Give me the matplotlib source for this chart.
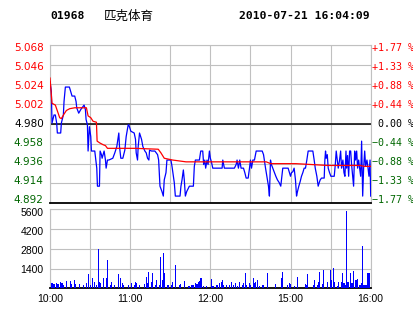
import matplotlib
matplotlib.use('Agg')
import matplotlib.pyplot as plt
from matplotlib.transforms import offset_copy

# header text
code = '01968'
name = '匹克体育'
stamp = '2010-07-21 16:04:09'
prev_close = 4.980

price_ticks = [4.892, 4.914, 4.936, 4.958, 4.980, 5.002, 5.024, 5.046, 5.068]
pct_labels = ['−1.77 %', '−1.33 %', '−0.88 %', '−0.44 %', ' 0.00 %',
              '+0.44 %', '+0.88 %', '+1.33 %', '+1.77 %']
vol_ticks = [1400, 2800, 4200, 5600]
time_ticks = [0, 60, 120, 180, 240]   # minutes of trading since 10:00
time_labels = ['10:00', '11:00', '12:00', '15:00', '16:00']

# minute price (blue)
price_t = [0, 1, 1.5, 3, 4, 5, 5.5, 8, 8.5, 10, 10.5, 11.5, 14.5, 15.5, 16.5, 18.5,
           19.5, 20, 21.5, 23, 24, 25.5, 26.5, 27, 28, 28.5, 29.5, 30.5, 31, 33.5,
           35, 35.5, 37, 37.5, 38.5, 39, 40.5, 41.5, 42, 43, 44, 47, 48.5, 50,
           51.5, 52, 53, 54.5, 56, 57, 58.5, 59, 60.5, 63, 64, 64.5, 65.5, 66, 67,
           68.5, 69.5, 71, 72, 73, 74, 74.5, 76, 78.5, 80.5, 81.3, 82.3, 83.8,
           84.8, 85.5, 86.8, 87.5, 90.5, 91.3, 92.3, 93, 93.8, 97.3, 98, 98.8,
           99.8, 100.5, 101.3, 102.3, 103.3, 104.3, 107.3, 108, 108.8, 111.8,
           112.8, 114.3, 115, 115.8, 116.5, 117.5, 118.3, 119.3, 120, 120.8,
           121.8, 128.8, 129.3, 130.5, 138, 139.3, 140, 141, 142, 143, 144.8,
           145.8, 146.8, 148.3, 149.3, 150, 150.8, 151.8, 153, 154.3, 158.8,
           159.8, 161.3, 162.7, 163.5, 164.2, 165, 165.7, 166.7, 167.7, 169,
           170.2, 171.5, 172.7, 173.5, 174.2, 178.2, 179.2, 180, 180.7, 181.7,
           182.7, 183.7, 184.5, 185.2, 186.2, 187.2, 188.2, 189.2, 190.2, 191.2,
           192.2, 193.2, 196.7, 197.7, 198.5, 199.7, 200.7, 201.5, 202.2, 203.2,
           205.2, 205.7, 206.2, 206.7, 207.5, 208.2, 209.2, 210.2, 212.7, 213.5,
           214.2, 215, 215.7, 216.7, 217.5, 218.2, 219.2, 220, 220.7, 221.5, 222,
           222.7, 223.5, 224.2, 225, 225.7, 226.5, 227.2, 228, 228.7, 229.5,
           230.2, 231, 231.7, 232.5, 233.2, 234, 234.7, 235.5, 236.2, 237.2, 238,
           238.7, 239.5, 240]
price_v = [5.027, 5.016, 4.981, 4.990, 4.990, 4.981, 4.970, 4.970, 4.981, 4.990,
           5.005, 5.021, 5.021, 5.016, 5.011, 5.011, 5.005, 4.998, 4.992, 4.996,
           4.998, 5.001, 4.996, 4.985, 4.979, 4.950, 4.977, 4.966, 4.950, 4.950,
           4.931, 4.911, 4.911, 4.950, 4.946, 4.942, 4.950, 4.940, 4.931, 4.940,
           4.940, 4.942, 4.948, 4.955, 4.970, 4.955, 4.942, 4.942, 4.951, 4.966,
           4.979, 4.979, 4.972, 4.970, 4.963, 4.948, 4.940, 4.955, 4.970, 4.963,
           4.955, 4.950, 4.948, 4.942, 4.940, 4.951, 4.950, 4.950, 4.946, 4.940,
           4.911, 4.905, 4.900, 4.918, 4.926, 4.940, 4.940, 4.933, 4.922, 4.915,
           4.900, 4.900, 4.911, 4.918, 4.929, 4.918, 4.900, 4.905, 4.908, 4.911,
           4.911, 4.933, 4.940, 4.940, 4.950, 4.950, 4.935, 4.940, 4.931, 4.940,
           4.935, 4.950, 4.942, 4.938, 4.931, 4.931, 4.940, 4.931, 4.931, 4.935,
           4.940, 4.931, 4.940, 4.931, 4.931, 4.926, 4.920, 4.920, 4.931, 4.940,
           4.931, 4.940, 4.940, 4.950, 4.950, 4.946, 4.931, 4.918, 4.911, 4.900,
           4.940, 4.935, 4.931, 4.927, 4.922, 4.918, 4.915, 4.911, 4.922, 4.931,
           4.931, 4.926, 4.922, 4.926, 4.927, 4.931, 4.918, 4.900, 4.905, 4.911,
           4.916, 4.922, 4.926, 4.931, 4.931, 4.940, 4.950, 4.950, 4.940, 4.931,
           4.922, 4.911, 4.915, 4.918, 4.920, 4.920, 4.940, 4.950, 4.942, 4.946,
           4.931, 4.926, 4.922, 4.922, 4.935, 4.950, 4.940, 4.931, 4.940, 4.950,
           4.931, 4.940, 4.926, 4.922, 4.950, 4.931, 4.945, 4.922, 4.950, 4.950,
           4.935, 4.922, 4.911, 4.950, 4.940, 4.950, 4.931, 4.940, 4.931, 4.922,
           4.961, 4.900, 4.931, 4.950, 4.933, 4.940, 4.931, 4.922, 4.940, 4.900]

# average price (red)
avg_t = [0, 1.5, 4, 7.25, 8.5, 10.5, 12.25, 14.75, 18.5, 27.25, 28.5, 30.5, 32.25,
         34.75, 35.25, 37.25, 39.75, 41.5, 43, 63.5, 81, 83, 85.5, 91.8, 101.8,
         161.8, 165.2, 184, 207.7, 232, 235.2, 240]
avg_v = [5.031, 5.003, 5.001, 4.987, 4.986, 4.991, 4.995, 4.997, 4.998, 4.998,
         4.989, 4.987, 4.983, 4.982, 4.961, 4.959, 4.957, 4.956, 4.953, 4.953,
         4.952, 4.948, 4.942, 4.940, 4.938, 4.938, 4.936, 4.936, 4.934, 4.934,
         4.933, 4.933]

# volume per minute
vol_t = [1, 2, 3, 5, 6, 8, 9, 10, 12, 15, 16, 18, 19, 22, 25, 27, 29, 30, 32, 33,
         35, 36, 37, 38, 40, 42, 43, 45, 46, 48, 51, 53, 54, 55, 59, 61, 63, 64, 65,
         67, 71, 72, 73, 74, 76, 77, 79, 80, 82, 83, 84, 85, 86, 88, 89, 91, 92,
         94, 97, 98, 101, 104, 106, 107, 109, 110, 111, 112, 113, 115, 117, 121,
         122, 125, 127, 128, 129, 130, 132, 134, 136, 137, 139, 140, 142, 144, 145,
         146, 147, 149, 150, 152, 153, 154, 155, 157, 159, 160, 163, 169, 173, 174,
         178, 179, 180, 183, 185, 191, 192, 193, 197, 198, 200, 201, 202, 204, 205,
         208, 210, 211, 212, 213, 215, 216, 218, 219, 220, 221, 222, 223, 225, 226,
         227, 229, 230, 232, 233, 234, 235, 236, 237, 238, 239]
vol_v = [400, 354, 307, 354, 307, 472, 354, 236, 520, 543, 307, 590, 307, 307, 236,
         354, 1015, 236, 708, 472, 236, 2785, 472, 354, 708, 708, 2006, 236, 472,
         236, 1015, 708, 354, 236, 236, 354, 236, 472, 354, 236, 307, 830, 354,
         1180, 472, 1062, 236, 590, 236, 2240, 590, 2530, 1110, 236, 236, 236, 472,
         1650, 236, 307, 543, 165, 236, 236, 400, 307, 472, 543, 755, 165, 165, 637,
         165, 236, 354, 472, 590, 236, 236, 236, 472, 236, 354, 165, 472, 236, 354,
         1110, 236, 354, 236, 708, 354, 472, 590, 165, 236, 236, 1110, 307, 708,
         1180, 236, 400, 307, 165, 780, 307, 236, 1015, 236, 590, 236, 472, 1180,
         307, 1300, 472, 1300, 590, 1416, 472, 165, 472, 472, 1110, 354, 236, 5475,
         472, 1110, 400, 1227, 590, 660, 236, 400, 3020, 236, 236, 236, 1110, 1110]

grid_c = '#c0c0c0'
red = '#ff0000'
green = '#006600'
blue = '#0000ff'

fig = plt.figure(figsize=(4.14, 3.14), dpi=100)
W, H = 414, 314
ax = fig.add_axes([50 / W, (H - 203.3) / H, 320.7 / W, 158.6 / H])
axv = fig.add_axes([50 / W, (H - 288.3) / H, 320.7 / W, 79 / H])

def label_color(p):
    if p > prev_close:
        return red
    if p == prev_close:
        return 'black'
    return green

# price panel
ax.plot(price_t, price_v, color=blue, lw=0.9, zorder=3)
ax.plot(avg_t, avg_v, color=red, lw=0.9, zorder=4)
ax.axhline(prev_close, color='black', lw=1.1, zorder=2)
ax.set_xlim(0, 240)
ax.set_ylim(price_ticks[0], price_ticks[-1])
ax.set_xticks(range(0, 241, 30))
ax.set_yticks(price_ticks)
ax.tick_params(length=0, labelleft=False, labelbottom=False)
ax.grid(color=grid_c, lw=0.8, zorder=0)
for s in ax.spines.values():
    s.set_color(grid_c)
    s.set_linewidth(0.8)
ax.spines['bottom'].set_color('black')
ax.spines['bottom'].set_linewidth(1.3)

# side labels sit a little inside the outer grid lines, like the original
lo, hi = price_ticks[0], price_ticks[-1]
left_tr = offset_copy(ax.transAxes, fig=fig, x=-4.5, units='points')
right_tr = offset_copy(ax.transAxes, fig=fig, x=1.2, units='points')
for p, pct in zip(price_ticks, pct_labels):
    f = 0.5 + ((p - lo) / (hi - lo) - 0.5) * 0.956
    ax.text(0, f, '%.3f' % p, transform=left_tr, ha='right', va='center',
            family='DejaVu Sans', fontsize=7.5, color=label_color(p))
    ax.text(1, f, pct, transform=right_tr, ha='left', va='center',
            family='DejaVu Sans Mono', fontsize=7.2, color=label_color(p))

# volume panel
axv.bar(vol_t, vol_v, width=0.8, color=blue, zorder=3)
axv.set_xlim(0, 240)
axv.set_ylim(0, vol_ticks[-1])
axv.set_yticks(vol_ticks)
axv.set_xticks(time_ticks)
axv.set_xticklabels(time_labels, family='Liberation Sans', fontsize=7.5)
axv.set_xticks(range(0, 241, 30), minor=True)
axv.tick_params(which='both', length=0, labelleft=False)
axv.tick_params(axis='x', pad=4)
axv.grid(which='both', color=grid_c, lw=0.8, zorder=0)
for s in axv.spines.values():
    s.set_color(grid_c)
    s.set_linewidth(0.8)
axv.spines['bottom'].set_color('black')
axv.spines['bottom'].set_linewidth(1.3)

vleft_tr = offset_copy(axv.transAxes, fig=fig, x=-4.5, units='points')
for v in vol_ticks:
    axv.text(0, v / vol_ticks[-1] * 0.95, str(v), transform=vleft_tr, ha='right',
             va='center', family='Liberation Sans', fontsize=7.5, color='black')

# header
fig.text(50 / W, 1 - 16 / H, code, family='DejaVu Sans Mono', weight='bold',
         fontsize=8.2, va='center', ha='left')
fig.text(104 / W, 1 - 16 / H, name, family=['Noto Sans CJK SC', 'DejaVu Sans'],
         fontsize=9, va='center', ha='left')
fig.text(370 / W, 1 - 16 / H, stamp, family='DejaVu Sans Mono', weight='bold',
         fontsize=8.2, va='center', ha='right')

fig.savefig('out.png', dpi=100, facecolor='white')
